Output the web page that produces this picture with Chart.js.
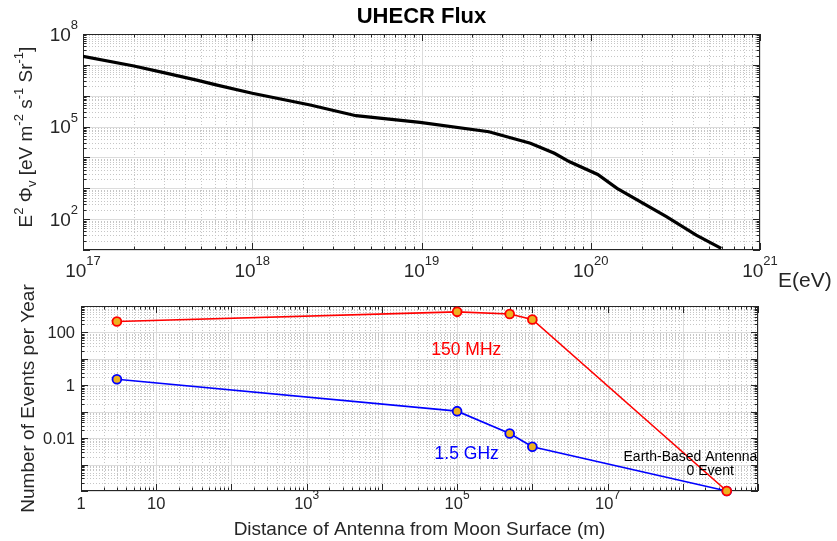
<!DOCTYPE html>
<html>
<head>
<meta charset="utf-8">
<script src="https://cdn.jsdelivr.net/npm/chart.js"></script>
<style>
  body { margin: 0; background: #fff; }
  #wrap { position: relative; width: 837px; height: 541px; }
  canvas { position: absolute; left: 0; }
</style>
</head>
<body>
<div id="wrap">
  <canvas id="flux" width="837" height="300" style="top:0"></canvas>
  <canvas id="events" width="837" height="261" style="top:280px"></canvas>
</div>
<script>
// UHECR flux curve (log-log)
const fluxEnergy = [1e17, 2.0e17, 3.0e17, 4.7e17, 6.2e17, 1e18, 2.2e18, 4.1e18, 9.8e18, 2.5e19, 4.4e19, 6.1e19, 7.5e19, 1.1e20, 1.43e20, 2.8e20, 4.2e20, 5.9e20];
const fluxE2Phi = [1.9e7, 9.2e6, 5.6e6, 3.2e6, 2.2e6, 1.2e6, 5.0e5, 2.25e5, 1.37e5, 6.8e4, 2.9e4, 1.36e4, 7.2e3, 2.8e3, 1.0e3, 120, 30.5, 11.3];

// events per year vs antenna distance
const distances = [3, 1e5, 5e5, 1e6, 3.84e8];
const events150MHz = [260, 600, 500, 310, 1e-4];
const events1p5GHz = [1.7, 0.105, 0.015, 0.0047, 1e-4];

// tick labels ('^' marks the exponent)
const fluxXTicks = [1e17, 1e18, 1e19, 1e20, 1e21];
const fluxXLabels = ['10^17', '10^18', '10^19', '10^20', '10^21'];
const fluxYTicks = [1e2, 1e5, 1e8];
const fluxYLabels = ['10^2', '10^5', '10^8'];
const eventXTicks = [1, 10, 1e3, 1e5, 1e7];
const eventXLabels = ['1', '10', '10^3', '10^5', '10^7'];
const eventYTicks = [100, 1, 0.01];
const eventYLabels = ['100', '1', '0.01'];

const FONT = '"Liberation Sans", Arial, Helvetica, sans-serif';
const AXIS_COLOR = '#262626';
Chart.defaults.font.family = FONT;
Chart.defaults.color = AXIS_COLOR;

function decades(min, max) {
  const lo = Math.round(Math.log10(min)), hi = Math.round(Math.log10(max));
  const major = [], minor = [];
  for (let e = lo; e <= hi; e++) {
    major.push(Math.pow(10, e));
    if (e < hi) for (let k = 2; k <= 9; k++) minor.push(k * Math.pow(10, e));
  }
  return {major, minor};
}

// "10^5" -> 10 with raised 5
function richLabel(ctx, label, x, y, align, size) {
  const parts = label.split('^');
  const supSize = Math.round(size * 0.7);
  ctx.font = size + 'px ' + FONT;
  const wb = ctx.measureText(parts[0]).width;
  let ws = 0;
  if (parts[1]) { ctx.font = supSize + 'px ' + FONT; ws = ctx.measureText(parts[1]).width; }
  const w = wb + ws;
  const x0 = align === 'center' ? x - w / 2 : (align === 'right' ? x - w : x);
  ctx.textAlign = 'left';
  ctx.textBaseline = 'alphabetic';
  ctx.font = size + 'px ' + FONT;
  ctx.fillText(parts[0], x0, y);
  if (parts[1]) {
    ctx.font = supSize + 'px ' + FONT;
    ctx.fillText(parts[1], x0 + wb, y - size * 0.62);
  }
}

const matlabAxes = {
  id: 'matlabAxes',
  beforeDatasetsDraw(chart, args, o) {
    const {ctx, chartArea: a} = chart;
    const xs = chart.scales.x, ys = chart.scales.y;
    const xd = decades(xs.min, xs.max), yd = decades(ys.min, ys.max);
    const px = v => Math.round(xs.getPixelForValue(v)) + 0.5;
    const py = v => Math.round(ys.getPixelForValue(v)) + 0.5;
    ctx.save();
    ctx.lineWidth = 1;

    // minor grid, dotted
    ctx.strokeStyle = '#c6c6c6';
    ctx.setLineDash([1, 2]);
    ctx.beginPath();
    xd.minor.forEach(v => { ctx.moveTo(px(v), a.top); ctx.lineTo(px(v), a.bottom); });
    yd.minor.forEach(v => { ctx.moveTo(a.left, py(v)); ctx.lineTo(a.right, py(v)); });
    ctx.stroke();

    // major grid
    ctx.setLineDash([]);
    ctx.strokeStyle = '#dcdcdc';
    ctx.beginPath();
    xd.major.forEach(v => { ctx.moveTo(px(v), a.top); ctx.lineTo(px(v), a.bottom); });
    yd.major.forEach(v => { ctx.moveTo(a.left, py(v)); ctx.lineTo(a.right, py(v)); });
    ctx.stroke();

    // box + inward ticks on all sides
    ctx.strokeStyle = AXIS_COLOR;
    ctx.strokeRect(a.left + 0.5, a.top + 0.5, a.width - 1, a.height - 1);
    ctx.beginPath();
    const tick = (list, len) => {
      list.forEach(v => {
        const x = px(v);
        ctx.moveTo(x, a.bottom); ctx.lineTo(x, a.bottom - len);
        ctx.moveTo(x, a.top); ctx.lineTo(x, a.top + len);
      });
    };
    const ytick = (list, len) => {
      list.forEach(v => {
        const y = py(v);
        ctx.moveTo(a.left, y); ctx.lineTo(a.left + len, y);
        ctx.moveTo(a.right, y); ctx.lineTo(a.right - len, y);
      });
    };
    tick(xd.major, 7); tick(xd.minor, 3.5);
    ytick(yd.major, 7); ytick(yd.minor, 3.5);
    ctx.stroke();
    ctx.restore();
  },
  afterDraw(chart, args, o) {
    const {ctx, chartArea: a} = chart;
    const xs = chart.scales.x, ys = chart.scales.y;
    ctx.save();
    ctx.fillStyle = AXIS_COLOR;
    o.xTicks.forEach((v, i) => richLabel(ctx, o.xLabels[i], xs.getPixelForValue(v), a.bottom + o.xLabelDy, 'center', o.tickSize));
    o.yTicks.forEach((v, i) => richLabel(ctx, o.yLabels[i], a.left - o.yLabelDx, ys.getPixelForValue(v) + o.tickSize * 0.36, 'right', o.tickSize));

    if (o.texts) {
      o.texts.forEach(t => {
        ctx.fillStyle = t.color;
        ctx.font = t.size + 'px ' + FONT;
        ctx.textAlign = 'left';
        ctx.textBaseline = 'middle';
        ctx.fillText(t.text, xs.getPixelForValue(t.x), ys.getPixelForValue(t.y));
      });
    }
    if (o.extra) o.extra(chart, ctx);
    ctx.restore();
  }
};

// rotated y title with super/subscripts
function fluxYTitle(chart, ctx) {
  const segs = [['E', 0], ['2', 1], [' \u03A6', 0], ['v', -1], [' [eV m', 0], ['-2', 1], [' s', 0], ['-1', 1], [' Sr', 0], ['-1', 1], [']', 0]];
  const size = 19, small = 13;
  let total = 0;
  segs.forEach(s => { ctx.font = (s[1] ? small : size) + 'px ' + FONT; total += ctx.measureText(s[0]).width; });
  ctx.save();
  ctx.translate(32, 137);
  ctx.rotate(-Math.PI / 2);
  ctx.fillStyle = AXIS_COLOR;
  ctx.textAlign = 'left';
  ctx.textBaseline = 'alphabetic';
  let x = -total / 2;
  segs.forEach(s => {
    ctx.font = (s[1] ? small : size) + 'px ' + FONT;
    const dy = s[1] === 1 ? -9 : (s[1] === -1 ? 4 : 0);
    ctx.fillText(s[0], x, dy);
    x += ctx.measureText(s[0]).width;
  });
  ctx.restore();
  // x-axis name at the right end
  ctx.fillStyle = AXIS_COLOR;
  ctx.font = '21px ' + FONT;
  ctx.textAlign = 'left';
  ctx.textBaseline = 'alphabetic';
  ctx.fillText('E(eV)', 778, 287);
}

const fixWidth = w => scale => { scale.width = w; };
const fixHeight = h => scale => { scale.height = h; };

new Chart(document.getElementById('flux'), {
  type: 'line',
  data: {
    datasets: [{
      data: fluxEnergy.map((e, i) => ({x: e, y: fluxE2Phi[i]})),
      borderColor: '#000000',
      borderWidth: 3.2,
      pointRadius: 0,
      tension: 0
    }]
  },
  options: {
    responsive: false,
    animation: false,
    devicePixelRatio: 1,
    layout: {padding: {left: 0, right: 77, top: 0, bottom: 0}, autoPadding: false},
    scales: {
      x: {
        type: 'logarithmic', min: 1e17, max: 1e21, bounds: 'data',
        ticks: {display: false}, grid: {display: false}, border: {display: false},
        afterFit: fixHeight(50)
      },
      y: {
        type: 'logarithmic', min: 1e1, max: 1e8, bounds: 'data',
        ticks: {display: false}, grid: {display: false}, border: {display: false},
        afterFit: fixWidth(83)
      }
    },
    plugins: {
      legend: {display: false},
      tooltip: {enabled: false},
      title: {
        display: true, text: 'UHECR Flux', fullSize: false, color: '#000000',
        font: {size: 22, weight: 'bold', lineHeight: 1.2},
        padding: {top: 4, bottom: 3.6}
      },
      matlabAxes: {
        xTicks: fluxXTicks, xLabels: fluxXLabels,
        yTicks: fluxYTicks, yLabels: fluxYLabels,
        tickSize: 19, xLabelDy: 27, yLabelDx: 5,
        extra: fluxYTitle
      }
    }
  },
  plugins: [matlabAxes]
});

new Chart(document.getElementById('events'), {
  type: 'line',
  data: {
    datasets: [{
      label: '150 MHz',
      data: distances.map((d, i) => ({x: d, y: events150MHz[i]})),
      borderColor: '#ff0000',
      borderWidth: 1.6,
      pointRadius: 4.4,
      pointBorderWidth: 1.8,
      pointBorderColor: '#ff0000',
      pointBackgroundColor: '#EDB120',
      tension: 0,
      clip: false
    }, {
      label: '1.5 GHz',
      data: distances.map((d, i) => ({x: d, y: events1p5GHz[i]})),
      borderColor: '#0000ff',
      borderWidth: 1.6,
      pointRadius: 4.4,
      pointBorderWidth: 1.8,
      pointBorderColor: '#0000ff',
      pointBackgroundColor: '#EDB120',
      tension: 0,
      clip: false
    }]
  },
  options: {
    responsive: false,
    animation: false,
    devicePixelRatio: 1,
    layout: {padding: {left: 0, right: 79, top: 26, bottom: 0}, autoPadding: false},
    scales: {
      x: {
        type: 'logarithmic', min: 1, max: 1e9, bounds: 'data',
        ticks: {display: false}, grid: {display: false}, border: {display: false},
        title: {display: true, text: 'Distance of Antenna from Moon Surface (m)', color: AXIS_COLOR,
          font: {size: 19}, padding: {top: 0, bottom: 0}},
        afterFit: fixHeight(50)
      },
      y: {
        type: 'logarithmic', min: 1e-4, max: 1e3, bounds: 'data',
        ticks: {display: false}, grid: {display: false}, border: {display: false},
        title: {display: true, text: 'Number of Events per Year', color: AXIS_COLOR,
          font: {size: 19}, padding: {top: 17, bottom: 0}},
        afterFit: fixWidth(81)
      }
    },
    plugins: {
      legend: {display: false},
      tooltip: {enabled: false},
      matlabAxes: {
        xTicks: eventXTicks, xLabels: eventXLabels,
        yTicks: eventYTicks, yLabels: eventYLabels,
        tickSize: 16.5, xLabelDy: 18, yLabelDx: 6,
        texts: [
          {text: '150 MHz', x: 4.54e4, y: 22, color: '#ff0000', size: 17.5},
          {text: '1.5 GHz', x: 5.02e4, y: 0.00244, color: '#0000ff', size: 17.5},
          {text: 'Earth-Based Antenna', x: 1.63e7, y: 0.00193, color: '#000000', size: 14},
          {text: '0 Event', x: 1.12e8, y: 5.5e-4, color: '#000000', size: 14}
        ]
      }
    }
  },
  plugins: [matlabAxes]
});
</script>
</body>
</html>
